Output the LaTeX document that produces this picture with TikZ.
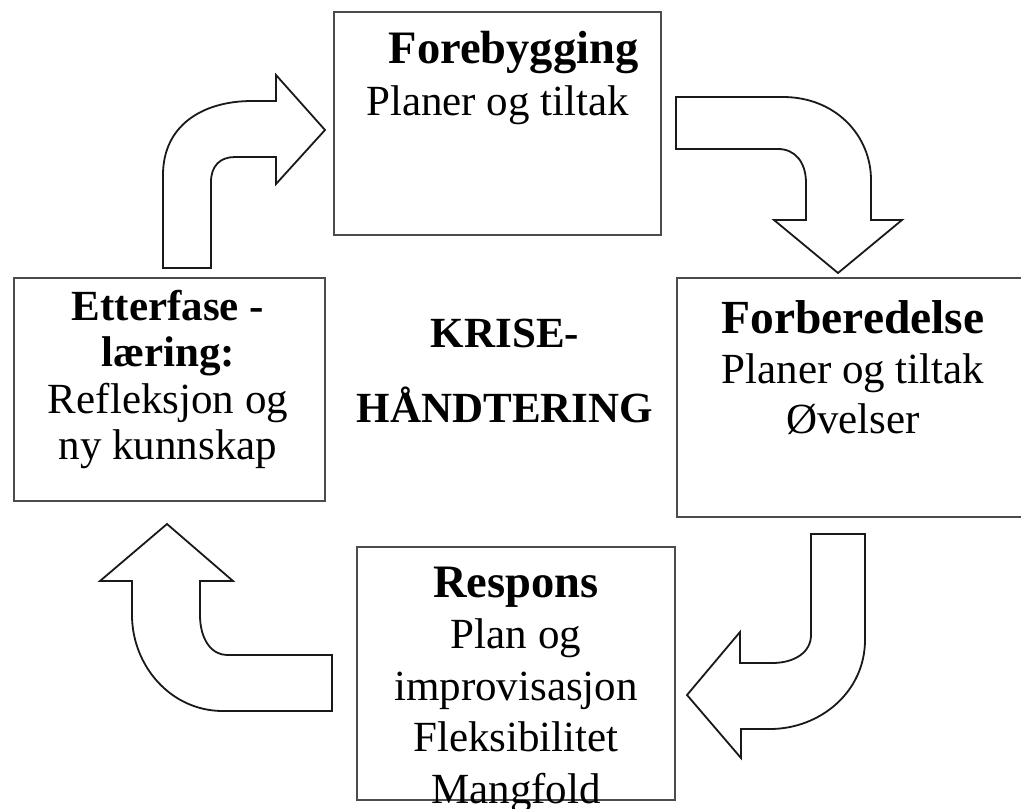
\documentclass[tikz,border=0pt]{standalone}
\usepackage{fontspec}
\setmainfont{Liberation Serif}
\usetikzlibrary{positioning}

\begin{document}
\begin{tikzpicture}[x=1pt,y=-1pt,
  fase/.style={draw=black!70,line width=2.6pt,fill=white,inner sep=0pt},
  tekst/.style={align=center,inner sep=0pt,anchor=base,font=\fontsize{43}{50}\selectfont},
  pil/.style={draw=black!90,line width=1.8pt,fill=white,line join=miter}]
\useasboundingbox (0,0) rectangle (1021,809);
% faser
\node[fase,minimum width=327pt,minimum height=223pt] (f_1) at (497.5,123.5) {};
\node[fase,minimum width=352pt,minimum height=239pt] (f_2) at (853,397.5) {};
\node[fase,minimum width=318pt,minimum height=253pt] (f_3) at (516,673.5) {};
\node[fase,minimum width=311pt,minimum height=223pt] (f_4) at (169.5,389.5) {};
% tekster (base = siste linje)
\node[tekst,font=\fontsize{43}{52}\selectfont] (t_1) at (497.5,115) {\hspace*{32pt}{\fontsize{46.5}{52}\selectfont\bfseries Forebygging}\\Planer og tiltak};
\node[tekst] (t_2) at (853,433) {{\fontsize{47.5}{50}\selectfont\bfseries Forberedelse}\\Planer og tiltak\\Øvelser};
\node[tekst,font=\fontsize{43}{51.5}\selectfont] (t_3) at (516,803) {{\fontsize{46.5}{51.5}\selectfont\bfseries Respons}\\Plan og\\improvisasjon\\Fleksibilitet\\Mangfold};
\node[tekst,font=\fontsize{43}{46.5}\selectfont] (t_4) at (168,459.5) {\textbf{Etterfase -}\\\textbf{læring:}\\Refleksjon og\\ny kunnskap};
\node[tekst,font=\fontsize{43}{75}\selectfont] (krise) at (505,422) {\textbf{KRISE-}\\\textbf{HÅNDTERING}};
% piler
\path[pil] (163,268) -- (163,175) .. controls (163,125) and (203,101) .. (252,101)
  -- (276,101) -- (276,75) -- (325,130) -- (276,184) -- (276,157) -- (235,157)
  .. controls (220,157) and (211,166) .. (211,182) -- (211,268) -- cycle;
\path[pil] (676,97) -- (783,97) .. controls (835,97) and (871,135) .. (871,180)
  -- (871,220) -- (902,220) -- (838,273) -- (774,220) -- (806,220) -- (806,183)
  .. controls (806,162) and (795,149) .. (778,149) -- (676,149) -- cycle;
\path[pil] (811,534) -- (865,534) -- (865,640) .. controls (865,692) and (820,729) .. (770,729)
  -- (741,729) -- (741,758) -- (687,695) -- (740,632) -- (740,663) -- (772,663)
  .. controls (795,663) and (811,652) .. (811,635) -- cycle;
\path[pil] (167,524) -- (233,581) -- (200,581) -- (200,615) .. controls (200,640) and (212,655) .. (227,655)
  -- (332,655) -- (332,711) -- (223,711) .. controls (170,711) and (132,665) .. (132,615)
  -- (132,581) -- (100,581) -- cycle;
\end{tikzpicture}
\end{document}
